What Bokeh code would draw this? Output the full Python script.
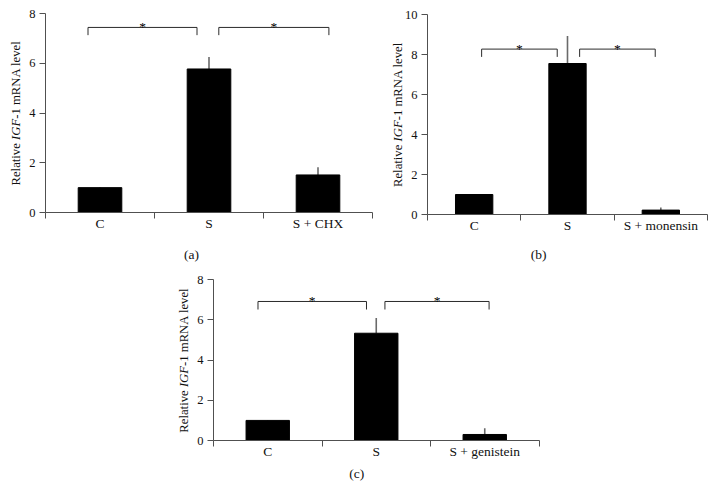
import math
from bokeh.plotting import figure
from bokeh.models import FixedTicker, Spacer, Range1d, ColumnDataSource, LinearAxis
from bokeh.layouts import column, row
from bokeh.embed import file_html
from bokeh.resources import INLINE
from bokeh.core.properties import value

FONT = "Liberation Serif"

# ---------------- data ----------------
cats_a = ["C", "S", "S + CHX"]
vals_a = [1.0, 5.77, 1.51]
errs_a = [0.02, 0.48, 0.31]

cats_b = ["C", "S", "S + monensin"]
vals_b = [1.0, 7.55, 0.22]
errs_b = [0.02, 1.38, 0.13]

cats_c = ["C", "S", "S + genistein"]
vals_c = [1.0, 5.34, 0.30]
errs_c = [0.02, 0.76, 0.31]

yticks_a = [0, 2, 4, 6, 8]
yticks_b = [0, 2, 4, 6, 8, 10]
yticks_c = [0, 2, 4, 6, 8]

# significance brackets: left/right x (category units), top and end heights
brk_left_a = [0.39, 1.59]
brk_right_a = [1.39, 2.60]
brk_top_a = [7.44, 7.44]
brk_end_a = [7.13, 7.13]

brk_left_b = [0.58, 1.63]
brk_right_b = [1.39, 2.44]
brk_top_b = [8.27, 8.27]
brk_end_b = [7.88, 7.88]

brk_left_c = [0.41, 1.58]
brk_right_c = [1.41, 2.54]
brk_top_c = [6.92, 6.92]
brk_end_c = [6.52, 6.52]

captions = ["(a)", "(b)", "(c)"]
ylabel_parts = ["Relative ", "IGF", "-1 mRNA level"]

AXIS_COLOR = "#505050"
TEXT_COLOR = "#111111"

# Times/Liberation Serif advance widths (per 1000 em) for label layout
ROMAN = {"R": 667, "e": 444, "l": 278, "a": 444, "t": 278, "i": 278, "v": 500,
         " ": 250, "-": 333, "1": 500, "m": 778, "N": 722, "A": 722}
ITALIC = {"I": 333, "G": 722, "F": 611}


def text_w(s, table, size):
    return sum(table[ch] for ch in s) * size / 1000.0


def panel(cats, vals, errs, bl, br, bt, be, ymax, yticks, caption, cap_x,
          cap_dy, fig_w, fig_h, ox, oy, ppx, ppy):
    n = len(cats)
    p = figure(width=fig_w, height=fig_h, output_backend="svg",
               toolbar_location=None,
               x_range=Range1d(-ox / ppx, (fig_w - ox) / ppx),
               y_range=Range1d(-(fig_h - oy) / ppy, oy / ppy),
               x_axis_location=None, y_axis_location=None,
               min_border=0)
    p.min_border_left = 0
    p.min_border_right = 0
    p.min_border_top = 0
    p.min_border_bottom = 0
    p.outline_line_color = None
    p.grid.visible = False
    p.background_fill_color = "white"

    xs = [i + 0.5 for i in range(n)]
    src = ColumnDataSource(dict(x=xs, top=vals,
                                etop=[v + e for v, e in zip(vals, errs)]))
    p.segment(x0="x", y0="top", x1="x", y1="etop", source=src,
              line_color="#6a6a6a", line_width=1.6)
    p.vbar(x="x", top="top", width=0.4, bottom=0, source=src,
           fill_color="black", line_color="black", line_width=1)

    bx = [[l, l, r, r] for l, r in zip(bl, br)]
    by = [[e, t, t, e] for t, e in zip(bt, be)]
    p.multi_line(xs=bx, ys=by, line_color="#2a2a2a", line_width=1)
    p.text(x=[(l + r) / 2 for l, r in zip(bl, br)], y=bt,
           text=["*"] * len(bl), text_font=value(FONT),
           text_font_size="13.5px", text_align="center",
           text_baseline="alphabetic", y_offset=-1, text_color="black")

    # x axis (at y = 0, limited to the categories)
    xa = LinearAxis(fixed_location=0, bounds=(0, n))
    xa.ticker = FixedTicker(ticks=xs, minor_ticks=list(range(n + 1)))
    xa.major_label_overrides = {x: c for x, c in zip(xs, cats)}
    xa.major_tick_line_color = None
    xa.major_tick_out = 0
    xa.major_tick_in = 0
    xa.minor_tick_out = 6
    xa.minor_tick_in = 0
    xa.minor_tick_line_color = AXIS_COLOR
    xa.axis_line_color = AXIS_COLOR
    xa.major_label_text_font = FONT
    xa.major_label_text_font_size = "13.5px"
    xa.major_label_text_color = TEXT_COLOR
    xa.major_label_standoff = -3
    p.add_layout(xa, "below")

    ya = LinearAxis(fixed_location=0, bounds=(0, ymax))
    ya.ticker = FixedTicker(ticks=yticks, minor_ticks=[])
    ya.major_tick_out = 6
    ya.major_tick_in = 0
    ya.major_tick_line_color = AXIS_COLOR
    ya.axis_line_color = AXIS_COLOR
    ya.major_label_text_font = FONT
    ya.major_label_text_font_size = "12.5px"
    ya.major_label_text_color = TEXT_COLOR
    ya.major_label_standoff = 4
    p.add_layout(ya, "left")

    # y axis label in three pieces (italic gene name), drawn as text glyphs
    fs = 12.7
    widths = [text_w(ylabel_parts[0], ROMAN, fs),
              text_w(ylabel_parts[1], ITALIC, fs),
              text_w(ylabel_parts[2], ROMAN, fs)]
    total = sum(widths)
    start = -total / 2
    styles = ["normal", "italic", "normal"]
    for part, w, st in zip(ylabel_parts, widths, styles):
        p.text(x=[0], y=[ymax / 2], text=[part], x_offset=-30,
               y_offset=-start, angle=math.pi / 2, text_align="left",
               text_baseline="middle", text_font=value(FONT),
               text_font_size=f"{fs}px", text_font_style=st,
               text_color=TEXT_COLOR)
        start += w

    p.text(x=[cap_x], y=[0], text=[caption], y_offset=cap_dy,
           text_align="center", text_baseline="middle",
           text_font=value(FONT), text_font_size="13.5px",
           text_color=TEXT_COLOR)
    return p


pa = panel(cats_a, vals_a, errs_a, brk_left_a, brk_right_a, brk_top_a,
           brk_end_a, 8, yticks_a, captions[0], 1.34, 42,
           385, 265, 45, 212, 109.0, 24.875)
pb = panel(cats_b, vals_b, errs_b, brk_left_b, brk_right_b, brk_top_b,
           brk_end_b, 10, yticks_b, captions[1], 1.19, 40,
           329, 265, 42, 214, 93.33, 20.0)
pc = panel(cats_c, vals_c, errs_c, brk_left_c, brk_right_c, brk_top_c,
           brk_end_c, 8, yticks_c, captions[2], 1.32, 33,
           380, 230, 43, 175, 108.5, 20.09)

layout = column(row(pa, pb), row(Spacer(width=170, height=230), pc))

open("out.html", "w").write(file_html(layout, INLINE))
